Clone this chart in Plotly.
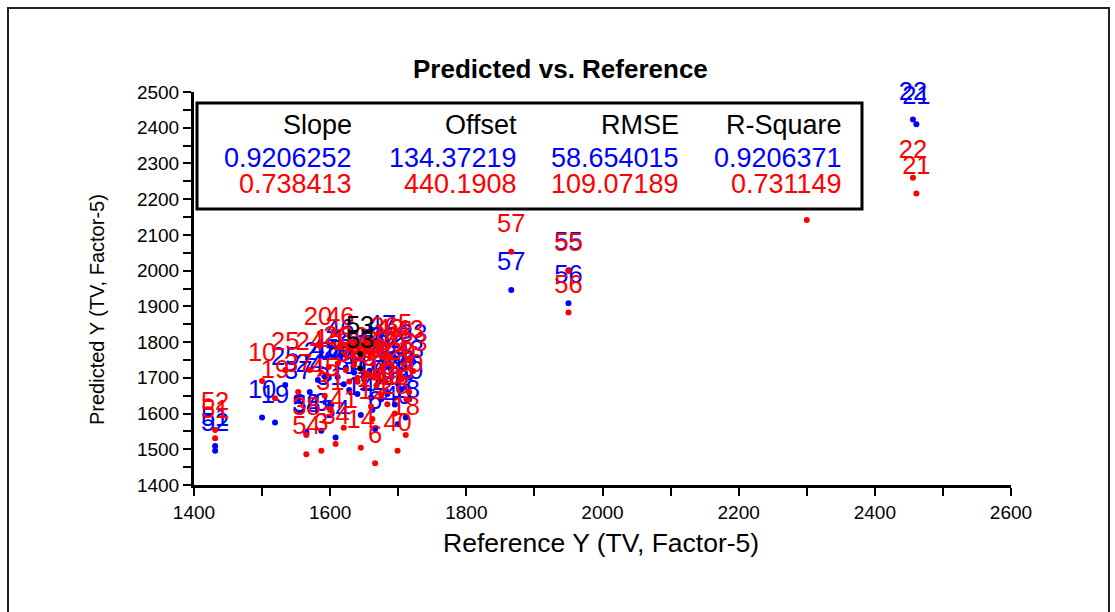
import plotly.graph_objects as go

# ---------------- data ----------------
sample_ids = [1, 2, 3, 4, 5, 6, 7, 8, 9, 10, 11, 12, 13, 14, 15, 16, 17, 18, 19, 20,
              21, 22, 23, 24, 25, 26, 27, 28, 29, 30, 31, 32, 33, 34, 35, 36, 37, 38, 39, 40,
              41, 42, 43, 44, 45, 46, 47, 48, 49, 50, 51, 52, 54, 55, 56, 57]
reference_y = [1655, 1671, 1587, 1690, 1710, 1666, 1682, 1712, 1700, 1500, 1640, 1662, 1623, 1645, 1598, 1675, 1660, 1711, 1519, 1582,
               2461, 2456, 2300, 1570, 1534, 1611, 1650, 1695, 1705, 1716, 1600, 1635, 1722, 1608, 1628, 1680, 1553, 1565, 1668, 1699,
               1620, 1688, 1717, 1658, 1592, 1615, 1676, 1640, 1684, 1665, 1431, 1431, 1565, 1950, 1950, 1866]
predicted_red = [1712, 1702, 1496, 1738, 1772, 1461, 1688, 1640, 1716, 1691, 1700, 1585, 1722, 1504, 1730, 1652, 1620, 1540, 1643, 1792,
                 2216, 2260, 2142, 1722, 1722, 1740, 1698, 1600, 1695, 1660, 1610, 1735, 1719, 1515, 1690, 1764, 1660, 1540, 1678, 1496,
                 1560, 1760, 1755, 1705, 1650, 1792, 1726, 1690, 1626, 1700, 1531, 1554, 1486, 1999, 1883, 2053]
predicted_blue = [1712, 1688, 1552, 1702, 1753, 1556, 1664, 1675, 1682, 1589, 1655, 1610, 1728, 1596, 1700, 1640, 1645, 1589, 1575, 1694,
                  2410, 2423, 2290, 1660, 1680, 1702, 1695, 1625, 1668, 1640, 1625, 1715, 1745, 1533, 1666, 1735, 1640, 1549, 1715, 1570,
                  1682, 1728, 1700, 1720, 1703, 1760, 1770, 1690, 1655, 1732, 1509, 1496, 1545, 2001, 1909, 1946]

excluded_id = [53, 53]
excluded_ref = [1644, 1644]
excluded_pred = [1767, 1727]

stat_headers = ["Slope", "Offset", "RMSE", "R-Square"]
stats_blue = ["0.9206252", "134.37219", "58.654015", "0.9206371"]
stats_red = ["0.738413", "440.1908", "109.07189", "0.731149"]

title = "Predicted vs. Reference"
x_title = "Reference Y (TV, Factor-5)"
y_title = "Predicted Y (TV, Factor-5)"

# ---------------- styling ----------------
FONT = "Arial, Liberation Sans, sans-serif"
BLUE = "#0000FF"
RED = "#FF0000"
LABEL_SIZE = 25.5
labels = [str(i) for i in sample_ids]

fig = go.Figure()


def add_series(xs, ys, txt, color):
    # dots
    fig.add_trace(go.Scatter(x=xs, y=ys, mode="markers",
                             marker=dict(size=6, color=color),
                             showlegend=False, hoverinfo="skip", cliponaxis=False))
    # labels (invisible larger marker gives the label offset above the dot)
    fig.add_trace(go.Scatter(x=xs, y=ys, mode="markers+text", text=txt,
                             textposition="top center",
                             textfont=dict(family=FONT, size=LABEL_SIZE, color=color),
                             marker=dict(size=20, color="rgba(0,0,0,0)"),
                             showlegend=False, hoverinfo="skip", cliponaxis=False))


add_series(reference_y, predicted_blue, labels, BLUE)
add_series(reference_y, predicted_red, labels, RED)
add_series(excluded_ref, excluded_pred, [str(i) for i in excluded_id], "black")

axis_common = dict(showgrid=False, zeroline=False, showline=True, linecolor="black",
                   linewidth=3, ticks="outside", ticklen=8, tickwidth=2, tickcolor="black",
                   tickfont=dict(family=FONT, size=19, color="black"), mirror=False)

fig.update_xaxes(range=[1400, 2600], tick0=1400, dtick=200,
                 minor=dict(dtick=100, ticks="outside", ticklen=8, tickwidth=2, tickcolor="black"),
                 **axis_common)
fig.update_yaxes(range=[1400, 2500], tick0=1400, dtick=100,
                 minor=dict(dtick=50, ticks="outside", ticklen=8, tickwidth=2, tickcolor="black"),
                 **axis_common)

W, H = 1115, 612
L, R, T, B = 194, 104, 92, 127
pw, ph = W - L - R, H - T - B


def px(xp):
    return (xp - L) / pw


def py(yp):
    return (H - B - yp) / ph


shapes = [
    # outer frame
    dict(type="rect", xref="paper", yref="paper", x0=px(8), x1=px(1109), y0=py(640), y1=py(8),
         line=dict(color="#222222", width=2), fillcolor="rgba(0,0,0,0)", layer="above"),
    # statistics box
    dict(type="rect", xref="paper", yref="paper", x0=px(197), x1=px(862), y0=py(209), y1=py(103),
         line=dict(color="black", width=3), fillcolor="white", layer="above"),
]

annotations = []
col_right = [354, 519, 681, 844]
for j in range(4):
    annotations.append(dict(x=px(col_right[j]), y=py(125), xref="paper", yref="paper",
                            text=stat_headers[j], showarrow=False, xanchor="right", yanchor="middle",
                            font=dict(family=FONT, size=27, color="black")))
    annotations.append(dict(x=px(col_right[j]), y=py(158), xref="paper", yref="paper",
                            text=stats_blue[j], showarrow=False, xanchor="right", yanchor="middle",
                            font=dict(family=FONT, size=27, color=BLUE)))
    annotations.append(dict(x=px(col_right[j]), y=py(184), xref="paper", yref="paper",
                            text=stats_red[j], showarrow=False, xanchor="right", yanchor="middle",
                            font=dict(family=FONT, size=27, color=RED)))

annotations.append(dict(x=px(560), y=py(69), xref="paper", yref="paper", text="<b>" + title + "</b>",
                        showarrow=False, xanchor="center", yanchor="middle",
                        font=dict(family=FONT, size=26, color="black")))
annotations.append(dict(x=px(601), y=py(543), xref="paper", yref="paper", text=x_title,
                        showarrow=False, xanchor="center", yanchor="middle",
                        font=dict(family=FONT, size=26.5, color="black")))
annotations.append(dict(x=px(97), y=py(310), xref="paper", yref="paper", text=y_title,
                        showarrow=False, xanchor="center", yanchor="middle", textangle=-90,
                        font=dict(family=FONT, size=20, color="black")))

fig.update_layout(width=W, height=H, margin=dict(l=L, r=R, t=T, b=B),
                  plot_bgcolor="white", paper_bgcolor="white",
                  shapes=shapes, annotations=annotations, showlegend=False)

fig.write_html("out.html")
